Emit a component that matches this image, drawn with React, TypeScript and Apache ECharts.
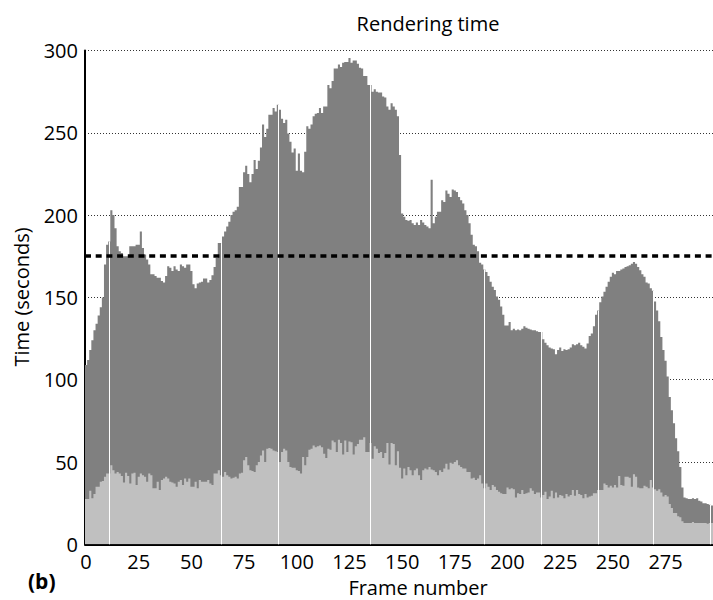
import React, { useEffect, useRef } from "react";
import * as echarts from "echarts";

// Total rendering time per frame (seconds)
const totalSeconds = [
  109, 112, 118, 124, 130, 134, 139, 144, 150, 170,
  182, 184, 203, 200, 192, 181, 178, 177, 175, 175,
  175, 181, 181, 181, 182, 182, 190, 180, 176, 173,
  170, 164, 164, 163, 162, 162, 160, 159, 163, 169,
  168, 166, 169, 167, 166, 170, 169, 168, 170, 170,
  166, 158, 155.5, 158.5, 159, 159.5, 161.5, 161.5, 159, 160.5,
  163.5, 168.5, 174, 183, 183, 187, 190, 193, 196, 200,
  202, 203, 205, 217, 217, 226, 230, 225, 220, 225,
  233.5, 228, 233, 241, 255, 247.5, 252.5, 261, 261, 265,
  263, 267, 264, 258.5, 256, 258, 249.5, 244.5, 238, 240.5,
  227, 237.5, 227, 226, 238.5, 254, 252.5, 255, 260, 261.5,
  262, 265, 262, 266, 266, 279, 277, 281.5, 289, 289,
  291.5, 290, 292.5, 293, 293, 295.5, 292.5, 294, 294, 292,
  289.5, 289, 284.5, 284.5, 279, 279, 275, 276.5, 275, 274.5,
  274.5, 272, 271.5, 266, 264, 268, 266, 264, 260, 236.5,
  201, 199, 197, 196.5, 197, 195, 194, 195.5, 194, 197,
  195.5, 194, 193, 192, 221.5, 195, 199, 202, 202, 209,
  208, 215, 213, 211, 215.5, 215, 214, 211, 209, 207,
  203, 200, 195, 188, 182, 181, 178, 171, 170, 167,
  165.5, 163, 159.5, 156.5, 154.5, 150.5, 148.5, 144.5, 139.5, 133,
  133, 135, 130, 131, 130, 130.5, 130, 131, 132.5, 131.5,
  131, 130.5, 130, 130, 129.5, 129, 129, 124.5, 122.5, 121,
  119.5, 119, 118.5, 115.5, 118, 119.5, 117.5, 118.5, 118, 118.5,
  119.5, 121.5, 121, 121.5, 122.5, 121, 120, 119, 122, 126.5,
  128, 132.5, 139.5, 142, 147, 150.5, 153.5, 156.5, 159.5, 162.5,
  165, 164, 166, 166, 167, 167.5, 168.5, 169, 169.5, 170.5,
  171.5, 170.5, 168.5, 166.5, 164, 162.5, 159, 158.5, 155.5, 154,
  147.5, 142, 135.5, 126, 118, 111.5, 102, 89.5, 81.5, 73.5,
  64.5, 56.5, 47, 34.5, 28.5, 28, 27.5, 27.5, 28, 27.5,
  28, 26.5, 26, 25, 25, 24.5, 24, 23.5,
];

// Lower (light grey) component of the rendering time per frame (seconds)
const baseSeconds = [
  27.5, 27.5, 32.5, 28, 30.5, 35, 35, 38, 38.5, 41,
  43, 43, 48, 45, 43, 44, 43, 41.5, 37.5, 43.5,
  41.5, 37, 43, 43.5, 36, 41, 43, 42, 41, 38,
  43, 42, 34, 34, 38, 33, 39, 40, 41, 40,
  38, 37.5, 37, 35, 38, 39, 36, 40, 38, 40,
  35, 35, 38, 34, 39, 38, 38, 38, 39, 37,
  36, 43, 43, 45, 42, 41, 44, 42, 41, 40,
  40.5, 41, 40, 43, 43.5, 51, 53, 48, 45, 44.5,
  44, 48, 50, 54, 57, 50, 58, 58.5, 58, 57,
  56.5, 56, 50, 56, 58, 57, 50, 47, 46.5, 46.5,
  45, 44.5, 43, 53, 48, 53, 57.5, 58, 60, 59,
  59.5, 60, 59, 55, 52.5, 58, 57.5, 63, 62, 56,
  63.5, 61.5, 54.5, 63, 56, 62.5, 62, 54.5, 59.5, 61,
  63.5, 63.5, 65, 56, 56, 61.5, 52, 59.5, 58, 55.5,
  56, 52.5, 55.5, 61.5, 48.5, 61.5, 61, 48, 56.5, 46.5,
  40, 46, 42, 47, 45, 42, 45, 46, 42, 39,
  45, 46, 45.5, 47, 45.5, 45, 44, 42, 45, 44,
  46, 49, 45.5, 49.5, 49, 50, 51, 48, 47, 46,
  46, 44, 44, 40, 40.5, 39, 40, 42, 37, 34,
  37, 35, 33, 36, 35, 33, 32, 31, 30.5, 30.5,
  34.5, 33.5, 34, 33.5, 28.5, 31, 30.5, 33, 30.5, 31,
  31.5, 34, 32.5, 30.5, 31.5, 31.5, 28.5, 30, 32, 27.5,
  29, 32.5, 28, 31.5, 28.5, 30, 29.5, 28, 30.5, 29,
  30, 33, 29.5, 33, 30.5, 30, 28, 30.5, 28.5, 29,
  29.5, 31, 31, 33, 33, 33, 37, 36, 34.5, 35.5,
  34.5, 36, 34.5, 41.5, 36, 35.5, 41, 41, 40.5, 35,
  42.5, 41, 34.5, 34, 34, 35.5, 35, 34, 39, 34.5,
  33.5, 32.5, 33.5, 31.5, 29, 30, 29, 24.5, 22, 19,
  19, 17, 16.5, 14, 13, 13, 13, 13, 13.5, 13,
  13, 13, 13, 13, 13, 12.5, 13, 13,
];

// Frames marked by thin white separators
const cutFrames = [11, 64, 91, 135, 189, 216, 243, 269, 296];
// Horizontal dashed reference level (seconds)
const targetSeconds = 175;
// Axis ticks
const yMin = 0;
const yMax = 300;
const yStep = 50;
const xLabelStep = 25;

const chartTitle = "Rendering time";
const xTitle = "Frame number";
const yTitle = "Time (seconds)";
const panelLabel = "(b)";

export default function App() {
  const ref = useRef<HTMLDivElement>(null);

  useEffect(() => {
    document.body.style.margin = "0";
    const chart = echarts.init(ref.current as HTMLDivElement, null, { renderer: "svg" });
    const frames = totalSeconds.map((_, i) => String(i));
    const font = '"Open Sans", sans-serif';

    const whiteSegments = cutFrames.map((f) => [
      { coord: [String(f), 0] },
      { coord: [String(f), totalSeconds[f]] },
    ]);

    chart.setOption({
      animation: false,
      grid: { left: 85, right: 0, top: 50.5, bottom: 55.7, containLabel: false },
      xAxis: {
        type: "category",
        data: frames,
        boundaryGap: true,
        axisLine: { lineStyle: { color: "#000", width: 2 } },
        axisTick: { show: false },
        axisLabel: {
          interval: (i: number) => i % xLabelStep === 0,
          color: "#000",
          fontSize: 20,
          fontFamily: font,
          margin: 7,
        },
        splitLine: { show: false },
      },
      yAxis: {
        type: "value",
        min: yMin,
        max: yMax,
        interval: yStep,
        axisLine: { show: true, lineStyle: { color: "#000", width: 2 } },
        axisTick: { show: false },
        axisLabel: { color: "#000", fontSize: 20, fontFamily: font, margin: 7 },
        splitLine: { lineStyle: { color: "#333", width: 1, type: [1, 2] } },
      },
      series: [
        {
          type: "bar",
          name: "Total",
          data: totalSeconds,
          barWidth: "100%",
          barGap: "-100%",
          large: true,
          largeThreshold: 50,
          silent: true,
          itemStyle: { color: "#808080" },
        },
        {
          type: "bar",
          name: "Base",
          data: baseSeconds,
          barWidth: "100%",
          barGap: "-100%",
          large: true,
          largeThreshold: 50,
          silent: true,
          itemStyle: { color: "#c0c0c0" },
          markLine: {
            silent: true,
            symbol: ["none", "none"],
            label: { show: false },
            lineStyle: { color: "#fff", width: 1, type: "solid" },
            data: [
              ...whiteSegments,
              {
                yAxis: targetSeconds,
                lineStyle: { color: "#000", width: 3.5, type: [6, 4.7] },
              },
            ],
          },
        },
      ],
      graphic: [
        {
          type: "text",
          x: 428,
          y: 23,
          style: {
            text: chartTitle,
            font: `20px ${font}`,
            fill: "#000",
            align: "center",
            verticalAlign: "middle",
            textAlign: "center",
            textVerticalAlign: "middle",
          },
        },
        {
          type: "text",
          x: 418,
          y: 587,
          style: {
            text: xTitle,
            font: `20px ${font}`,
            fill: "#000",
            align: "center",
            verticalAlign: "middle",
            textAlign: "center",
            textVerticalAlign: "middle",
          },
        },
        {
          type: "text",
          x: 21,
          y: 297,
          rotation: Math.PI / 2,
          style: {
            text: yTitle,
            font: `20px ${font}`,
            fill: "#000",
            align: "center",
            verticalAlign: "middle",
            textAlign: "center",
            textVerticalAlign: "middle",
          },
        },
        {
          type: "text",
          x: 28,
          y: 570,
          style: {
            text: panelLabel,
            font: `bold 21px ${font}`,
            fill: "#000",
            align: "left",
            verticalAlign: "top",
            textAlign: "left",
            textVerticalAlign: "top",
          },
        },
      ],
    });

    return () => chart.dispose();
  }, []);

  return <div ref={ref} style={{ width: 713, height: 600 }} />;
}
